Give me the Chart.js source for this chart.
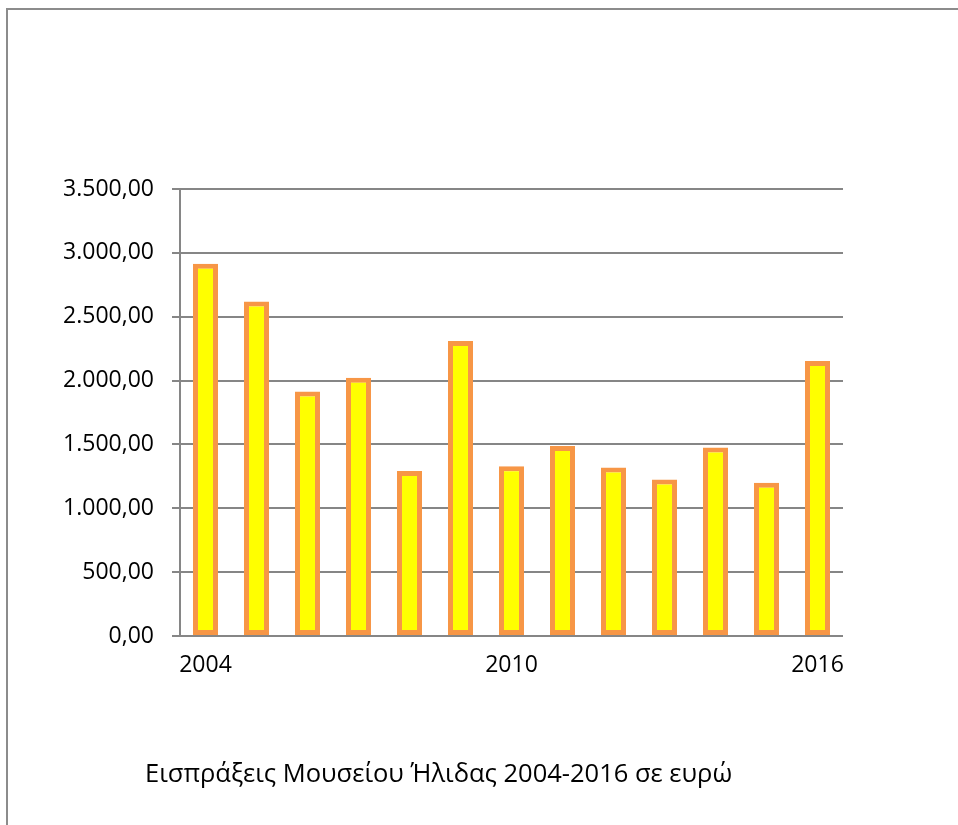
<!DOCTYPE html>
<html>
<head>
<meta charset="utf-8">
<script src="https://cdn.jsdelivr.net/npm/chart.js@4"></script>
<style>
html, body { margin: 0; padding: 0; background: #ffffff; overflow: hidden; }
#wrap { position: relative; width: 958px; height: 825px; }
#frame { position: absolute; left: 6px; top: 8px; width: 1000px; height: 900px;
         border-left: 2px solid #8c8c8c; border-top: 2px solid #8c8c8c; }
canvas { position: absolute; left: 0; top: 0; }
</style>
</head>
<body>
<div id="wrap">
  <div id="frame"></div>
  <canvas id="c" width="958" height="825"></canvas>
</div>
<script>
const years = ['2004','2005','2006','2007','2008','2009','2010','2011','2012','2013','2014','2015','2016'];
const shownYears = ['2004','2010','2016'];
const revenue = [2915, 2620, 1915, 2022, 1292, 2310, 1330, 1488, 1320, 1226, 1476, 1200, 2154];
const yTicks = [0, 500, 1000, 1500, 2000, 2500, 3000, 3500];
const chartTitle = 'Εισπράξεις Μουσείου Ήλιδας 2004-2016 σε ευρώ';

const FONT = '"Open Sans", "Noto Sans", "DejaVu Sans", sans-serif';

function formatGr(v) {
  const fixed = Math.abs(v).toFixed(2);
  const parts = fixed.split('.');
  const intPart = parts[0].replace(/\B(?=(\d{3})+(?!\d))/g, '.');
  return (v < 0 ? '-' : '') + intPart + ',' + parts[1];
}

const titlePlugin = {
  id: 'bottomTitle',
  afterDraw(chart) {
    const ctx = chart.ctx;
    ctx.save();
    ctx.font = '25.5px ' + FONT;
    ctx.fillStyle = '#000000';
    ctx.textAlign = 'left';
    ctx.textBaseline = 'middle';
    ctx.fillText(chartTitle, chart.chartArea.left - 35, 775);
    ctx.restore();
  }
};

new Chart(document.getElementById('c'), {
  type: 'bar',
  data: {
    labels: years,
    datasets: [{
      data: revenue,
      backgroundColor: '#FFFF00',
      borderColor: '#F79646',
      borderWidth: 5,
      borderSkipped: false,
      categoryPercentage: 1.0,
      barPercentage: 0.49
    }]
  },
  options: {
    responsive: false,
    animation: false,
    devicePixelRatio: 1,
    layout: { padding: { top: 189, right: 115, left: 0, bottom: 0 } },
    plugins: {
      legend: { display: false },
      tooltip: { enabled: false },
      title: { display: false }
    },
    scales: {
      x: {
        grid: { display: false, drawTicks: false },
        border: { display: false },
        ticks: {
          autoSkip: false,
          maxRotation: 0,
          padding: 16,
          color: '#000000',
          font: { size: 23, family: FONT },
          callback: function(val, idx) {
            const lab = years[idx];
            return shownYears.includes(lab) ? lab : '';
          }
        },
        afterFit(scale) { scale.height = 825 - 636; }
      },
      y: {
        min: 0,
        max: 3500,
        afterBuildTicks(scale) { scale.ticks = yTicks.map(v => ({ value: v })); },
        grid: { color: '#868686', lineWidth: 2, drawTicks: true, tickLength: 8 },
        border: { display: true, color: '#868686', width: 2 },
        ticks: {
          padding: 18,
          color: '#000000',
          font: { size: 23, family: FONT },
          callback: (v) => formatGr(v)
        },
        afterFit(scale) { scale.width = 180; }
      }
    }
  },
  plugins: [titlePlugin]
});
</script>
</body>
</html>
